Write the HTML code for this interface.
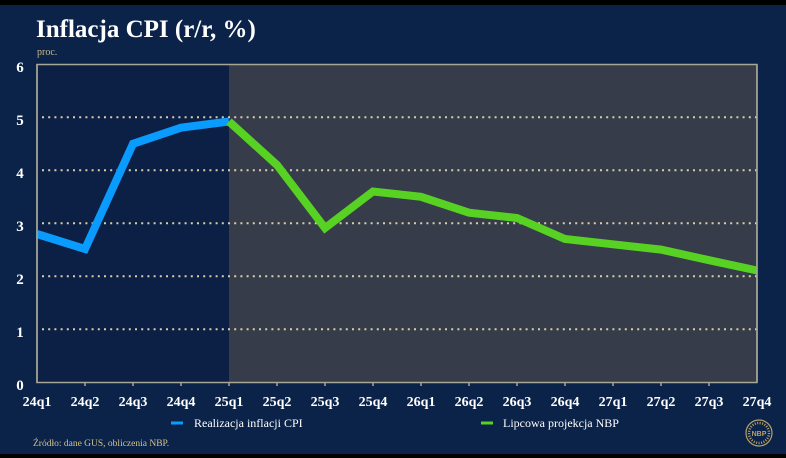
<!DOCTYPE html>
<html><head><meta charset="utf-8"><style>
html,body{margin:0;padding:0;background:#000;}
svg{display:block;}
</style></head><body>
<svg width="786" height="458" viewBox="0 0 786 458" xmlns="http://www.w3.org/2000/svg" font-family="'Liberation Serif', serif">
<rect x="0" y="0" width="786" height="458" fill="#000"/>
<rect x="0" y="5" width="786" height="449" fill="#0b2249"/>
<text x="36" y="37" font-size="25" font-weight="bold" fill="#ffffff">Inflacja CPI (r/r, %)</text>
<text x="37" y="55" font-size="10" fill="#cbb98c">proc.</text>
<!-- plot areas -->
<rect x="37" y="64.5" width="192" height="318" fill="#0c1f45"/>
<rect x="229" y="64.5" width="528" height="318" fill="#363c4a"/>
<!-- grid -->
<g stroke="#d8cfa8" stroke-width="2" stroke-dasharray="2 4.2" fill="none">
<line x1="42" y1="117.3" x2="757" y2="117.3"/>
<line x1="42" y1="170.3" x2="757" y2="170.3"/>
<line x1="42" y1="223.3" x2="757" y2="223.3"/>
<line x1="42" y1="276.3" x2="757" y2="276.3"/>
<line x1="42" y1="329.3" x2="757" y2="329.3"/>
</g>
<!-- border -->
<rect x="37" y="64.5" width="720" height="318" fill="none" stroke="#a8a796" stroke-width="1.5"/>
<g stroke="#a8a796" stroke-width="1.5">
<line x1="85" y1="382" x2="85" y2="386"/><line x1="133" y1="382" x2="133" y2="386"/><line x1="181" y1="382" x2="181" y2="386"/><line x1="229" y1="382" x2="229" y2="386"/><line x1="277" y1="382" x2="277" y2="386"/><line x1="325" y1="382" x2="325" y2="386"/><line x1="373" y1="382" x2="373" y2="386"/><line x1="421" y1="382" x2="421" y2="386"/><line x1="469" y1="382" x2="469" y2="386"/><line x1="517" y1="382" x2="517" y2="386"/><line x1="565" y1="382" x2="565" y2="386"/><line x1="613" y1="382" x2="613" y2="386"/><line x1="661" y1="382" x2="661" y2="386"/><line x1="709" y1="382" x2="709" y2="386"/>
</g>
<!-- series -->
<polyline fill="none" stroke="#0a9bff" stroke-width="8" stroke-linejoin="miter" points="37,234 85,249 133,143.8 181,127.7 229,121.5"/>
<polyline fill="none" stroke="#57d223" stroke-width="8" stroke-linejoin="miter" points="229,121.5 277,165 325,228 373,191.5 421,196.8 469,212.7 517,218 565,239 613,244.3 661,249.6 709,260.2 757,270.5"/>
<rect x="757.8" y="60" width="28" height="220" fill="#0b2249"/>
<line x1="757" y1="64.5" x2="757" y2="382" stroke="#a8a796" stroke-width="1.5"/>
<rect x="0" y="100" width="36" height="290" fill="#0b2249"/>
<line x1="37" y1="64" x2="37" y2="383" stroke="#a8a796" stroke-width="1.5"/>
<!-- y labels -->
<g font-size="15" fill="#ffffff" text-anchor="middle" font-weight="bold">
<text x="20" y="72">6</text>
<text x="20" y="125">5</text>
<text x="20" y="178">4</text>
<text x="20" y="231">3</text>
<text x="20" y="284">2</text>
<text x="20" y="337">1</text>
<text x="20" y="390">0</text>
</g>
<!-- x labels -->
<g font-size="14" fill="#ffffff" text-anchor="middle" font-weight="bold">
<text x="37" y="406">24q1</text><text x="85" y="406">24q2</text><text x="133" y="406">24q3</text><text x="181" y="406">24q4</text>
<text x="229" y="406">25q1</text><text x="277" y="406">25q2</text><text x="325" y="406">25q3</text><text x="373" y="406">25q4</text>
<text x="421" y="406">26q1</text><text x="469" y="406">26q2</text><text x="517" y="406">26q3</text><text x="565" y="406">26q4</text>
<text x="613" y="406">27q1</text><text x="661" y="406">27q2</text><text x="709" y="406">27q3</text><text x="757" y="406">27q4</text>
</g>
<!-- legend -->
<line x1="171" y1="423" x2="183" y2="423" stroke="#0a9bff" stroke-width="3"/>
<text x="194" y="427" font-size="12" fill="#ffffff">Realizacja inflacji CPI</text>
<line x1="481" y1="423" x2="493" y2="423" stroke="#57d223" stroke-width="3"/>
<text x="503" y="427" font-size="12" fill="#ffffff">Lipcowa projekcja NBP</text>
<text x="33" y="446" font-size="9.5" fill="#d6c48f">Źródło: dane GUS, obliczenia NBP.</text>
<!-- logo -->
<circle cx="759" cy="433" r="13" fill="none" stroke="#b8a26a" stroke-width="1.2"/>
<circle cx="759" cy="433" r="10" fill="none" stroke="#b8a26a" stroke-width="2.5" stroke-dasharray="1 1.5"/>
<text x="759" y="436" font-family="'Liberation Sans', sans-serif" font-size="7" font-weight="bold" fill="#b8a26a" text-anchor="middle">NBP</text>
<rect x="0" y="454" width="786" height="4" fill="#000"/>
</svg>
</body></html>
